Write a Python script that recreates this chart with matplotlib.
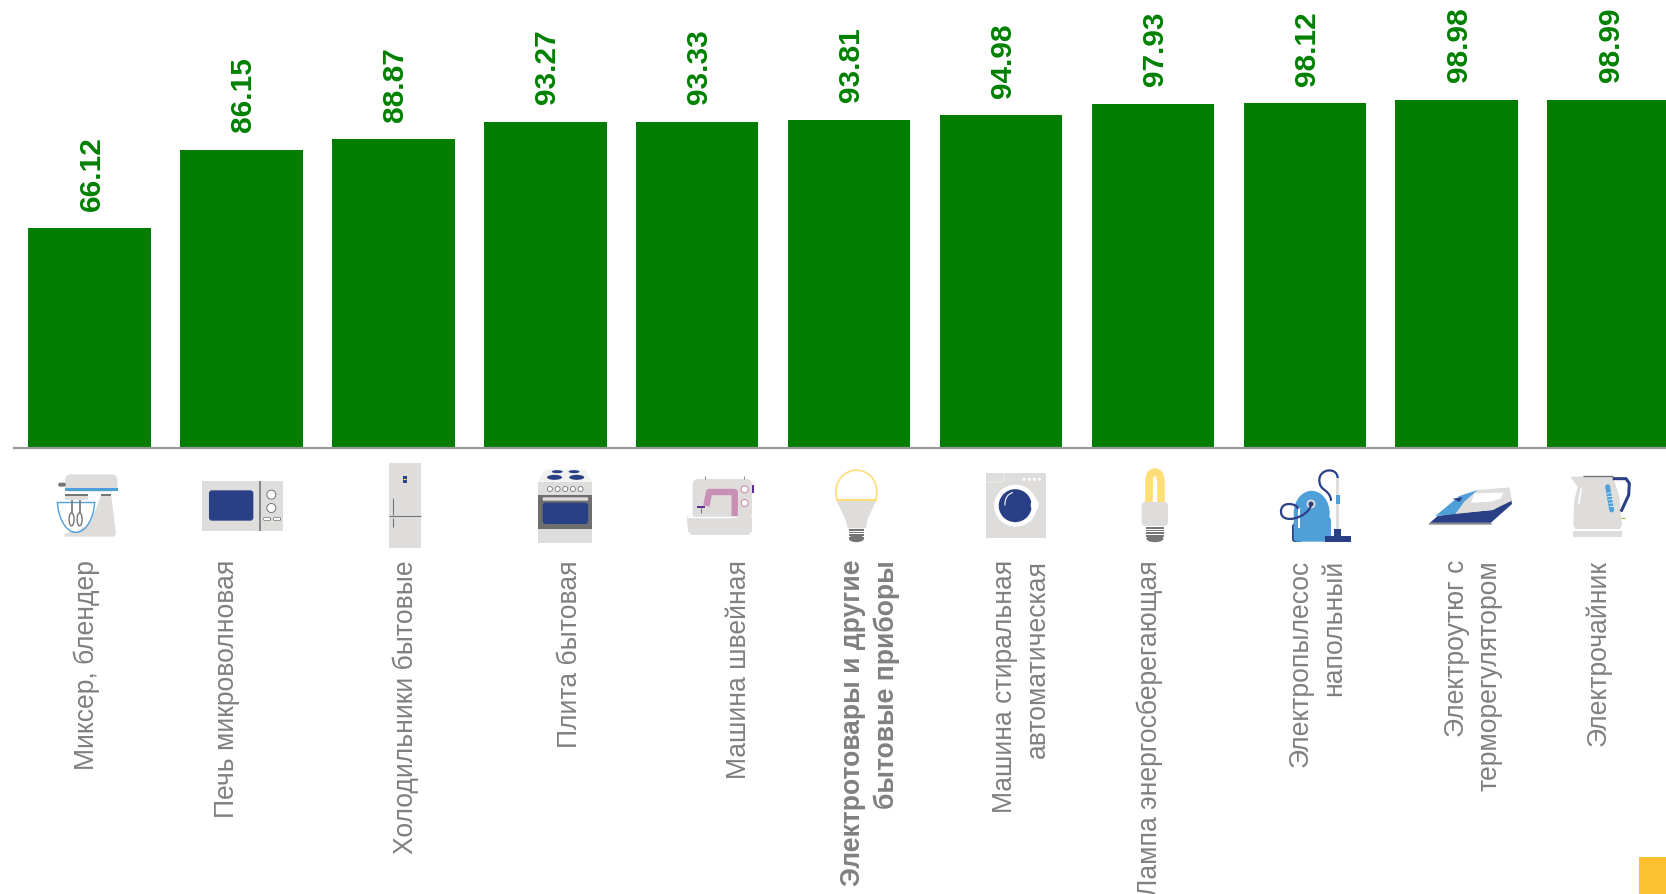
import matplotlib
matplotlib.use("Agg")
import matplotlib.pyplot as plt
from matplotlib.patches import Rectangle, Ellipse, Polygon, FancyBboxPatch, PathPatch
from matplotlib.path import Path

plt.rcParams['font.family'] = ['Liberation Sans', 'DejaVu Sans']

categories = ["Миксер, блендер", "Печь микроволновая", "Холодильники бытовые", "Плита бытовая",
              "Машина швейная", "Электротовары и другие\nбытовые приборы",
              "Машина стиральная\nавтоматическая", "Лампа энергосберегающая",
              "Электропылесос\nнапольный", "Электроутюг с\nтерморегулятором", "Электрочайник"]
values = [66.12, 86.15, 88.87, 93.27, 93.33, 93.81, 94.98, 97.93, 98.12, 98.98, 98.99]
label_shift_px = [-3, -14, 12, 25, 42, 21, 20.5, -3, 12.5, 16.5, -10]
bold_category = 5

W, H = 1666, 894
BASE_Y, X0, STEP, BAR_W = 448, 89.6, 151.9, 122.4
GREEN, GREY_TXT = '#017E01', '#808080'
LG, DB, LB, YL, DG = '#DEDDDB', '#2A4086', '#4F9FD8', '#FFDE78', '#757575'

fig = plt.figure(figsize=(W / 100, H / 100), dpi=100, facecolor='white')
ax = fig.add_axes([0, 1 - BASE_Y / H, 1, BASE_Y / H])
ax.set_xlim(-X0 / STEP, (W - X0) / STEP)
ax.set_ylim(10, 10 + BASE_Y / 3.915)
bars = ax.bar(range(len(values)), values, width=BAR_W / STEP, color=GREEN, zorder=2)
for i, v in enumerate(values):
    ax.annotate(f"{v:.2f}", xy=(i, v), xytext=(2, 17.5), textcoords='offset pixels',
                rotation=90, ha='center', va='bottom', color='#008000',
                fontsize=21.4, fontweight='bold', annotation_clip=False)
for s in ('top', 'left', 'right'):
    ax.spines[s].set_visible(False)
ax.spines['bottom'].set_color('#999999')
ax.spines['bottom'].set_linewidth(1.6)
ax.spines['bottom'].set_bounds(-(X0 - 14) / STEP, (W - X0) / STEP)
ax.spines['bottom'].set_zorder(3)
ax.set_yticks([])
ax.set_xticks([])

for i, (lab, dx) in enumerate(zip(categories, label_shift_px)):
    ax.annotate(lab, xy=(i, 10), xytext=(dx, -(560 - BASE_Y)), textcoords='offset pixels',
                annotation_clip=False, rotation=90, ha='center', va='top', multialignment='right',
                color=GREY_TXT, fontsize=19.1, linespacing=1.34,
                fontweight='bold' if i == bold_category else 'normal')

ov = fig.add_axes([0, 0, 1, 1], zorder=5)
ov.set_xlim(0, W)
ov.set_ylim(H, 0)
ov.axis('off')
ov.patch.set_alpha(0)

def mk(ox, sx):
    return lambda x, y: (ox + x / sx, 430 + y / 3)
z1, z2, z3 = mk(0, 2.613), mk(600, 2.613), mk(1166, 3)

def rect(z, x0, y0, x1, y1, c, round_px=0, **k):
    a, b = z(x0, y0), z(x1, y1)
    if round_px:
        ov.add_patch(FancyBboxPatch((a[0] + round_px, a[1] + round_px), b[0] - a[0] - 2 * round_px,
                                    b[1] - a[1] - 2 * round_px, boxstyle=f"round,pad={round_px}",
                                    fc=c, ec='none', **k))
    else:
        ov.add_patch(Rectangle(a, b[0] - a[0], b[1] - a[1], fc=c, ec='none', **k))

def poly(z, pts, c, **k):
    ov.add_patch(Polygon([z(*p) for p in pts], closed=True, fc=c, ec=k.pop('ec', 'none'), **k))

def ell(z, cx, cy, wpx, hpx, c, ec='none', lw=0):
    ov.add_patch(Ellipse(z(cx, cy), wpx, hpx, fc=c, ec=ec, lw=lw))

def line(z, pts, c, lw=1.0, cap='butt'):
    xs, ys = zip(*[z(*p) for p in pts])
    ov.plot(xs, ys, color=c, lw=lw, solid_capstyle=cap, solid_joinstyle='round')

def curve(z, pts, c, lw=1.5):
    p = [z(*q) for q in pts]
    codes = [Path.MOVETO] + [Path.CURVE4] * (len(p) - 1)
    ov.add_patch(PathPatch(Path(p, codes), fc='none', ec=c, lw=lw, capstyle='round'))

# mixer
poly(z1, [(265, 192), (290, 192), (303, 310), (298, 320), (170, 320), (168, 312), (225, 290), (250, 240)], LG)
rect(z1, 170, 133, 307, 185, LG, 6)
rect(z1, 170, 174, 308, 184, LB)
rect(z1, 152, 158, 172, 170, DG, 2)
rect(z1, 170, 192, 230, 198, DG)
rect(z1, 265, 192, 290, 198, DG)
rect(z1, 170, 198, 230, 210, LG)
poly(z1, [(150, 217), (247, 217), (240, 270), (198, 307), (160, 270)], 'white', ec='none')
curve(z1, [(150, 217), (152, 262), (172, 308), (198, 307), (225, 308), (246, 262), (247, 217)], LB, 1.0)
line(z1, [(150, 217), (247, 217)], LB, 1.0)
line(z1, [(188, 210), (188, 250)], DG, 1.2)
line(z1, [(208, 210), (208, 250)], DG, 1.2)
ell(z1, 187, 268, 5, 13, 'white', DG, 1)
ell(z1, 208, 268, 5, 13, 'white', DG, 1)
# microwave
rect(z1, 528, 153, 740, 302, LG)
rect(z1, 546, 181, 662, 272, DB, 3)
line(z1, [(680, 153), (680, 302)], DG, 1.2)
ell(z1, 709, 194, 9, 9, 'white', DG, 0.7)
ell(z1, 709, 234, 9, 9, 'white', DG, 0.7)
rect(z1, 688, 262, 708, 272, DG, 1)
rect(z1, 714, 262, 734, 272, DG, 1)
rect(z1, 690, 264, 706, 270, 'white')
rect(z1, 716, 264, 732, 270, 'white')
# fridge
rect(z1, 1017, 99, 1100, 353, LG)
rect(z1, 1053, 139, 1063, 158, DB)
line(z1, [(1053, 148), (1061, 148)], YL, 0.8)
line(z1, [(1017, 259), (1100, 259)], DG, 0.8)
line(z1, [(1028, 204), (1028, 255)], DG, 0.8)
line(z1, [(1028, 264), (1028, 290)], DG, 0.8)
# stove
poly(z1, [(1406, 155), (1547, 155), (1530, 118), (1424, 118)], '#F2F2F0')
for cx, cy, w, h in [(1456, 125, 11, 3), (1500, 125, 11, 3), (1449, 142, 15, 5), (1507, 142, 15, 5)]:
    ell(z1, cx, cy, w, h, DB)
rect(z1, 1406, 155, 1547, 195, LG)
for cx in (1437, 1457, 1477, 1497, 1517):
    ell(z1, cx, 177, 5, 5, 'white', DG, 0.6)
rect(z1, 1406, 195, 1547, 297, '#6E6E6E')
rect(z1, 1418, 202, 1537, 212, LG, 1)
rect(z1, 1418, 218, 1537, 282, DB, 3)
rect(z1, 1406, 297, 1547, 338, LG)
# sewing machine
rect(z2, 242, 147, 397, 265, LG, 6)
poly(z2, [(227, 260), (397, 260), (397, 305), (387, 315), (240, 315), (230, 305)], LG)
line(z2, [(227, 260), (355, 260)], 'white', 1.0)
line(z2, [(278, 228), (285, 186), (352, 186), (352, 258)], '#C990B6', 4.6)
for cy in (178, 219):
    ell(z2, 378, cy, 7, 7, 'white', '#C990B6', 0.8)
rect(z2, 396, 165, 402, 190, '#5E2D91')
rect(z2, 253, 228, 275, 233, '#5E2D91')
line(z2, [(265, 233), (265, 250)], DG, 0.7)
line(z2, [(275, 138), (275, 147)], DG, 0.6)
line(z2, [(375, 138), (375, 147)], DG, 0.6)
# bulb
ell(z2, 670, 185, 41, 43, 'white', YL, 1.2)
rect(z2, 610, 212, 730, 240, 'white')
poly(z2, [(618, 212), (722, 212), (700, 265), (695, 295), (648, 295), (640, 265)], LG)
line(z2, [(616, 211), (724, 211)], YL, 1.5)
for yy in (297, 305, 313, 321):
    rect(z2, 650, yy, 690, yy + 5, DG)
ell(z2, 670, 326, 15, 7, DG)
# washer
rect(z2, 1008, 129, 1165, 323, LG)
ell(z2, 1086, 227, 43, 42, 'white')
ell(z2, 1085, 227, 33, 33, DB)
ell(z2, 1136, 225, 8, 12, 'white')
curve(z2, [(1058, 225), (1058, 205), (1065, 192), (1078, 188)], 'white', 0.8)
for xx in (1108, 1122, 1135, 1148):
    ell(z2, xx, 148, 3, 3, 'white')
line(z2, [(1008, 157), (1050, 157), (1055, 150), (1055, 129)], '#EBEBEA', 0.8)
# CFL
rect(z2, 1415, 216, 1484, 288, LG, 4)
line(z2, [(1435, 217), (1435, 150)], YL, 5.5)
line(z2, [(1465, 217), (1465, 150)], YL, 5.5)
curve(z2, [(1435, 150), (1435, 118), (1465, 118), (1465, 150)], YL, 5.5)
for yy in (291, 299, 307, 315):
    rect(z2, 1427, yy, 1473, yy + 5, DG)
ell(z2, 1450, 326, 17, 7, DG)
# vacuum
rect(z3, 378, 280, 410, 336, DB, 3)
rect(z3, 383, 260, 495, 335, LB, 4)
ell(z3, 437, 250, 36, 45, LB)
rect(z3, 395, 235, 401, 295, 'white')
ell(z3, 435, 222, 9, 9, LG)
ell(z3, 435, 222, 5, 5, DB)
curve(z3, [(435, 225), (425, 265), (345, 285), (345, 245), (345, 210), (395, 222), (395, 235)], DB, 1.6)
curve(z3, [(495, 210), (490, 175), (460, 185), (460, 150), (460, 115), (515, 110), (515, 145)], DB, 1.6)
rect(z3, 510, 145, 520, 300, LG)
rect(z3, 510, 195, 522, 222, LB)
rect(z3, 504, 297, 525, 330, DB)
rect(z3, 477, 318, 555, 335, DB)
# iron
poly(z3, [(787, 284), (978, 284), (975, 277), (793, 277)], '#8A8A86')
poly(z3, [(792, 278), (975, 278), (1038, 222), (1036, 208), (980, 240), (870, 250), (815, 258)], DB)
poly(z3, [(866, 252), (895, 215), (935, 180), (1030, 172), (1038, 212), (980, 240)], LG)
poly(z3, [(808, 258), (868, 252), (895, 215), (935, 180), (880, 198)], LB)
poly(z3, [(915, 218), (925, 190), (1012, 188), (1005, 205), (975, 215)], 'white')
poly(z3, [(860, 206), (890, 202), (880, 216)], DB)
# kettle
line(z3, [(1340, 146), (1380, 146), (1390, 160), (1388, 195), (1365, 245)], DB, 2.2)
poly(z3, [(1212, 140), (1340, 138), (1360, 200), (1368, 285), (1362, 297), (1228, 297), (1222, 285),
          (1225, 210), (1235, 170)], LG)
line(z3, [(1252, 138), (1340, 138)], DG, 1.0)
rect(z3, 1221, 303, 1368, 321, LG)
line(z3, [(1325, 170), (1337, 240)], LB, 3.5, 'round')
for k in range(5):
    line(z3, [(1322 + 2 * k, 190 + 10 * k), (1338 + 2 * k, 188 + 10 * k)], 'white', 0.5)
line(z3, [(1365, 265), (1378, 265)], '#8CC63F', 0.8)
line(z3, [(1246, 175), (1238, 222)], 'white', 1.2)

# corner marker
ov.add_patch(Rectangle((1639, 857), 27, 37, fc='#FDC02F', ec='none'))

fig.savefig('out.png', dpi=100, facecolor='white')
